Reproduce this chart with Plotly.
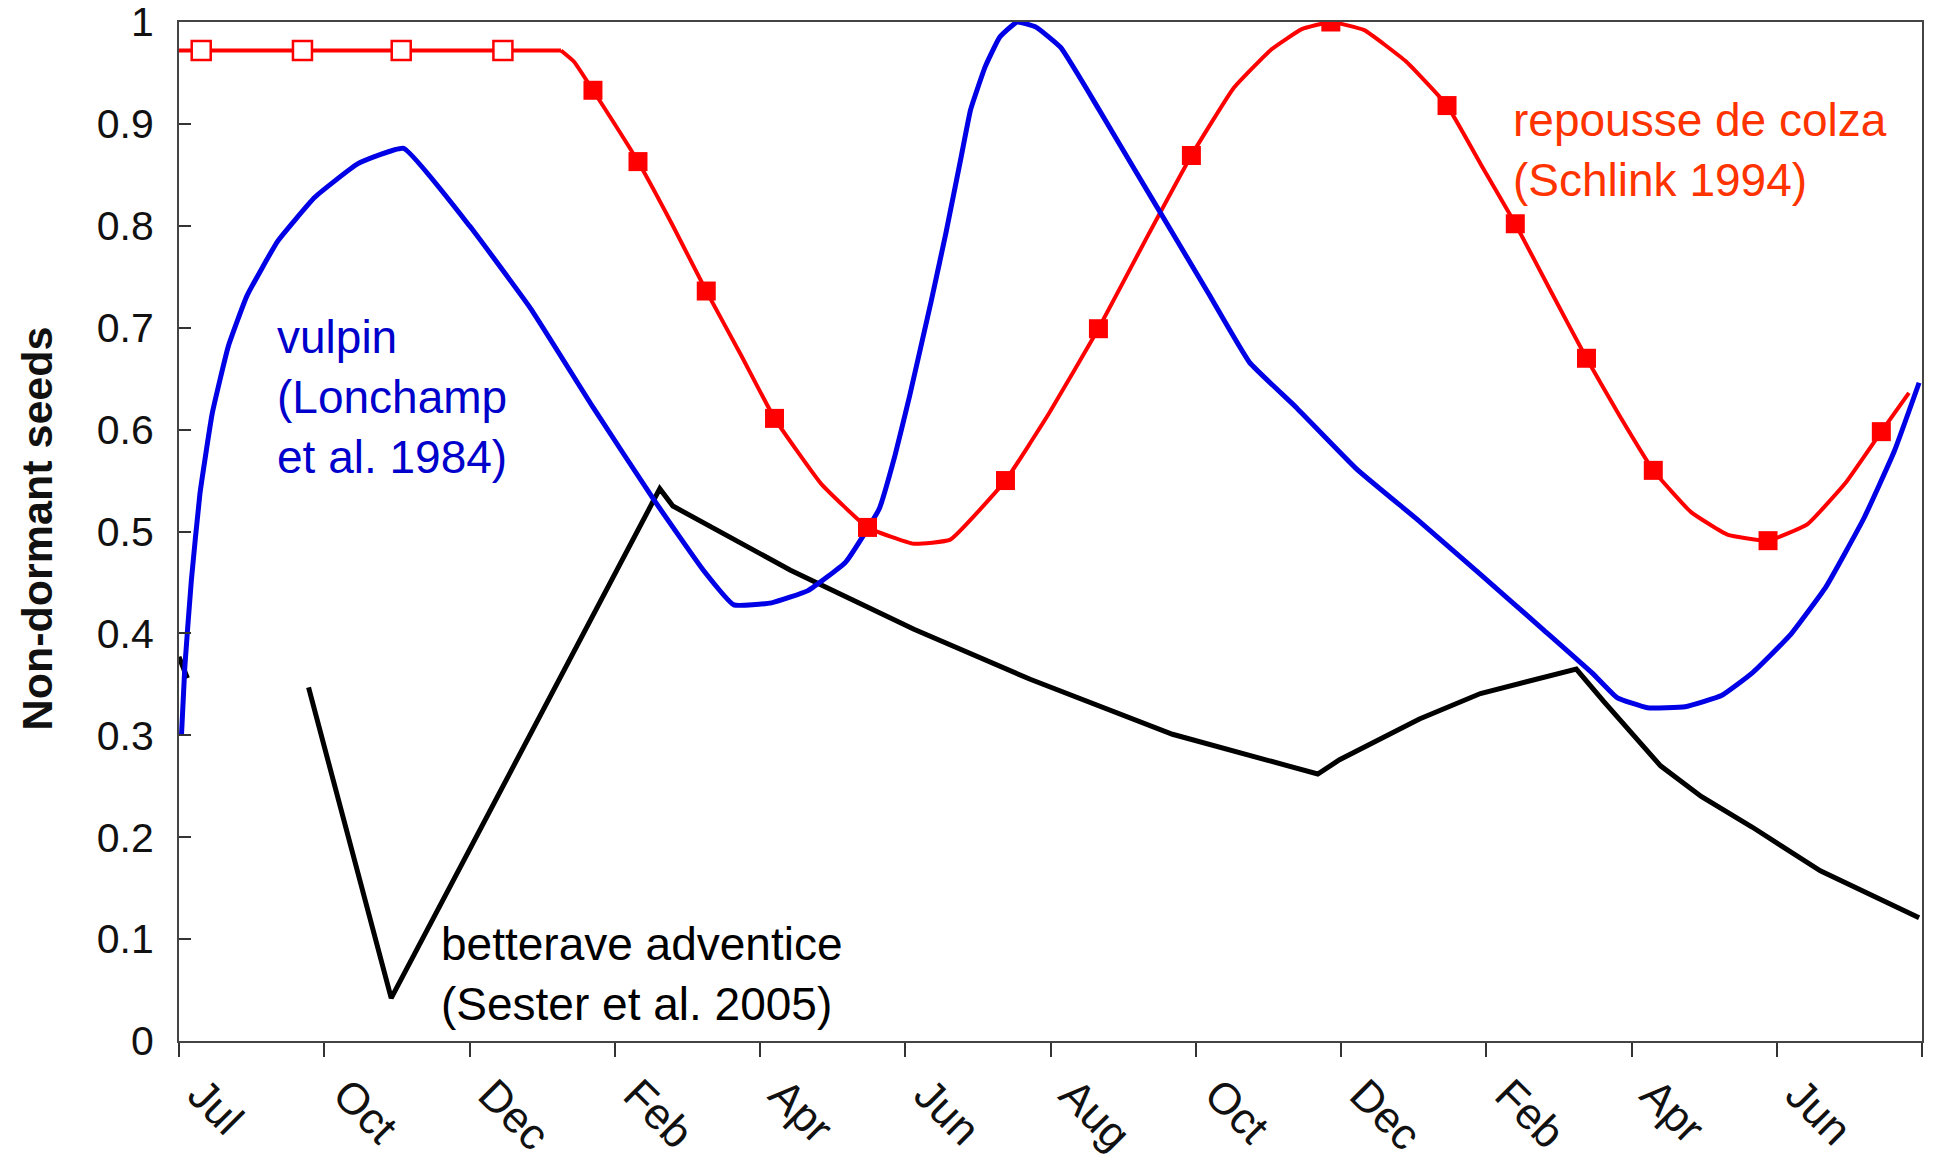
import plotly.graph_objects as go

# x positions are in "tick units": 0 = first tick (Jul), 12 = right edge
tick_labels = ["Jul", "Oct", "Dec", "Feb", "Apr", "Jun", "Aug", "Oct", "Dec", "Feb", "Apr", "Jun"]
tick_pos = list(range(13))
label_pos = [i + 0.15 for i in range(12)]
y_ticks = [0, 0.1, 0.2, 0.3, 0.4, 0.5, 0.6, 0.7, 0.8, 0.9, 1]
y_ticktext = ["0", "0.1", "0.2", "0.3", "0.4", "0.5", "0.6", "0.7", "0.8", "0.9", "1"]

# repousse de colza (Schlink 1994) - red curve
colza_flat_x = [0, 2.63]
colza_flat_y = [0.972, 0.972]
colza_x = [2.63, 2.72, 2.85, 3.16, 3.40, 3.63, 3.87, 4.10, 4.42, 4.74, 5.06, 5.31, 5.69, 5.99,
           6.33, 6.65, 6.97, 7.26, 7.52, 7.73, 7.93, 8.16, 8.45, 8.73, 8.96, 9.20, 9.44, 9.69,
           9.92, 10.15, 10.41, 10.66, 10.94, 11.21, 11.47, 11.72, 11.91]
colza_y = [0.972, 0.961, 0.933, 0.863, 0.800, 0.736, 0.673, 0.611, 0.547, 0.504, 0.488,
           0.492, 0.550, 0.616, 0.699, 0.785, 0.869, 0.935, 0.973, 0.993, 1.000, 0.992, 0.961,
           0.918, 0.861, 0.802, 0.737, 0.670, 0.613, 0.560, 0.519, 0.497, 0.491, 0.507, 0.547,
           0.598, 0.636]
colza_open_x = [0.153, 0.85, 1.53, 2.23]
colza_open_y = [0.972, 0.972, 0.972, 0.972]
colza_fill_x = [2.85, 3.16, 3.63, 4.10, 4.74, 5.69, 6.33, 6.97, 7.93, 8.73, 9.20, 9.69, 10.15, 10.94, 11.72]
colza_fill_y = [0.933, 0.863, 0.736, 0.611, 0.504, 0.550, 0.699, 0.869, 1.000, 0.918, 0.802, 0.670,
                0.560, 0.491, 0.598]

# vulpin (Lonchamp et al. 1984) - blue curve
vulpin_x = [0.017, 0.04, 0.085, 0.144, 0.229, 0.34, 0.467, 0.68, 0.935, 1.232, 1.546, 2.0, 2.42,
            2.85, 3.27, 3.61, 3.82, 4.08, 4.33, 4.59, 4.82, 4.93, 5.03, 5.18, 5.28, 5.38, 5.45,
            5.55, 5.65, 5.77, 5.90, 6.07, 6.33, 6.58, 6.84, 7.09, 7.37, 7.69, 8.11, 8.54, 8.96,
            9.39, 9.73, 9.90, 10.11, 10.37, 10.62, 10.83, 11.09, 11.34, 11.60, 11.81, 11.98]
vulpin_y = [0.300, 0.367, 0.452, 0.537, 0.616, 0.682, 0.731, 0.785, 0.828, 0.861, 0.876, 0.800,
            0.719, 0.622, 0.531, 0.462, 0.428, 0.430, 0.442, 0.470, 0.522, 0.575, 0.633, 0.727,
            0.793, 0.864, 0.914, 0.956, 0.985, 1.000, 0.995, 0.975, 0.915, 0.855, 0.793, 0.733,
            0.666, 0.622, 0.561, 0.510, 0.458, 0.404, 0.361, 0.337, 0.327, 0.328, 0.339, 0.361,
            0.398, 0.446, 0.513, 0.579, 0.646]

# betterave adventice (Sester et al. 2005) - black curve
bett_x = [0, 0.058, None, 0.892, 1.461, 3.31, 3.40, 4.21, 5.06, 5.86, 6.84, 7.84, 7.99, 8.54,
          8.96, 9.62, 9.81, 10.20, 10.48, 10.83, 11.30, 11.98]
bett_y = [0.377, 0.356, None, 0.347, 0.042, 0.542, 0.525, 0.462, 0.404, 0.355, 0.301, 0.262,
          0.276, 0.316, 0.341, 0.365, 0.333, 0.270, 0.240, 0.210, 0.167, 0.121]

RED = "#FF0000"
BLUE = "#0000E6"

fig = go.Figure()
fig.add_trace(go.Scatter(x=bett_x, y=bett_y, mode="lines",
                         line=dict(color="#000000", width=5), connectgaps=False, showlegend=False))
fig.add_trace(go.Scatter(x=colza_flat_x, y=colza_flat_y, mode="lines",
                         line=dict(color=RED, width=4), showlegend=False))
fig.add_trace(go.Scatter(x=colza_x, y=colza_y, mode="lines",
                         line=dict(color=RED, width=4, shape="spline", smoothing=0.35), showlegend=False))
fig.add_trace(go.Scatter(x=vulpin_x, y=vulpin_y, mode="lines",
                         line=dict(color=BLUE, width=5, shape="spline", smoothing=0.35), showlegend=False))
fig.add_trace(go.Scatter(x=colza_open_x, y=colza_open_y, mode="markers",
                         marker=dict(symbol="square", size=19, color="white",
                                     line=dict(color=RED, width=2.5)), showlegend=False))
fig.add_trace(go.Scatter(x=colza_fill_x, y=colza_fill_y, mode="markers",
                         marker=dict(symbol="square", size=19, color=RED,
                                     line=dict(width=0)), showlegend=False))

W, H = 1936, 1168
fig.update_layout(
    width=W, height=H,
    margin=dict(l=179, r=14, t=22, b=127),
    paper_bgcolor="white", plot_bgcolor="white",
    font=dict(family="Liberation Sans, Arial, sans-serif", color="#111111"),
    xaxis=dict(range=[0, 12], tickmode="array", tickvals=tick_pos, showticklabels=False,
               ticks="outside", ticklen=14, tickwidth=2, tickcolor="#333333",
               showline=True, linecolor="#444444", linewidth=2, mirror=True, automargin=False,
               showgrid=False, zeroline=False),
    xaxis2=dict(range=[0, 12], overlaying="x", side="bottom", tickmode="array",
                tickvals=label_pos, ticktext=tick_labels, tickangle=45, ticks="",
                showline=False, showgrid=False, zeroline=False, automargin=False,
                tickfont=dict(size=44, color="#111111"), ticklabelstandoff=18,
                ticklabeloverflow="allow"),
    yaxis=dict(range=[0, 1], tickmode="array", tickvals=y_ticks, ticktext=y_ticktext,
               ticks="inside", ticklen=12, tickwidth=2, tickcolor="#333333",
               showline=True, linecolor="#444444", linewidth=2, mirror=True, automargin=False,
               showgrid=False, zeroline=False, tickfont=dict(size=41, color="#111111"),
               ticklabelstandoff=15, ticklabeloverflow="allow"),
)
# invisible helper trace so the label axis is drawn
fig.add_trace(go.Scatter(x=[None], y=[None], xaxis="x2", yaxis="y", showlegend=False,
                         hoverinfo="skip"))

fig.add_annotation(text="<b>Non-dormant seeds</b>", xref="paper", yref="paper",
                   x=-0.0815, y=0.503, xanchor="center", yanchor="middle", textangle=-90,
                   showarrow=False, font=dict(size=43, color="#111111"))
fig.add_annotation(text="repousse de colza<br>(Schlink 1994)", xref="x", yref="y",
                   x=9.17, y=0.8745, xanchor="left", yanchor="middle", align="left",
                   showarrow=False, bgcolor="white", font=dict(size=46, color="#FF3300"))
fig.add_annotation(text="vulpin<br>(Lonchamp<br>et al. 1984)", xref="x", yref="y",
                   x=0.66, y=0.632, xanchor="left", yanchor="middle", align="left",
                   showarrow=False, font=dict(size=46, color="#0000CC"))
fig.add_annotation(text="betterave adventice<br>(Sester et al. 2005)", xref="x", yref="y",
                   x=1.79, y=0.0655, xanchor="left", yanchor="middle", align="left",
                   showarrow=False, font=dict(size=46, color="#000000"))

fig.write_html("out.html", config={"displayModeBar": False},
               post_script="document.body.style.margin='0';")
